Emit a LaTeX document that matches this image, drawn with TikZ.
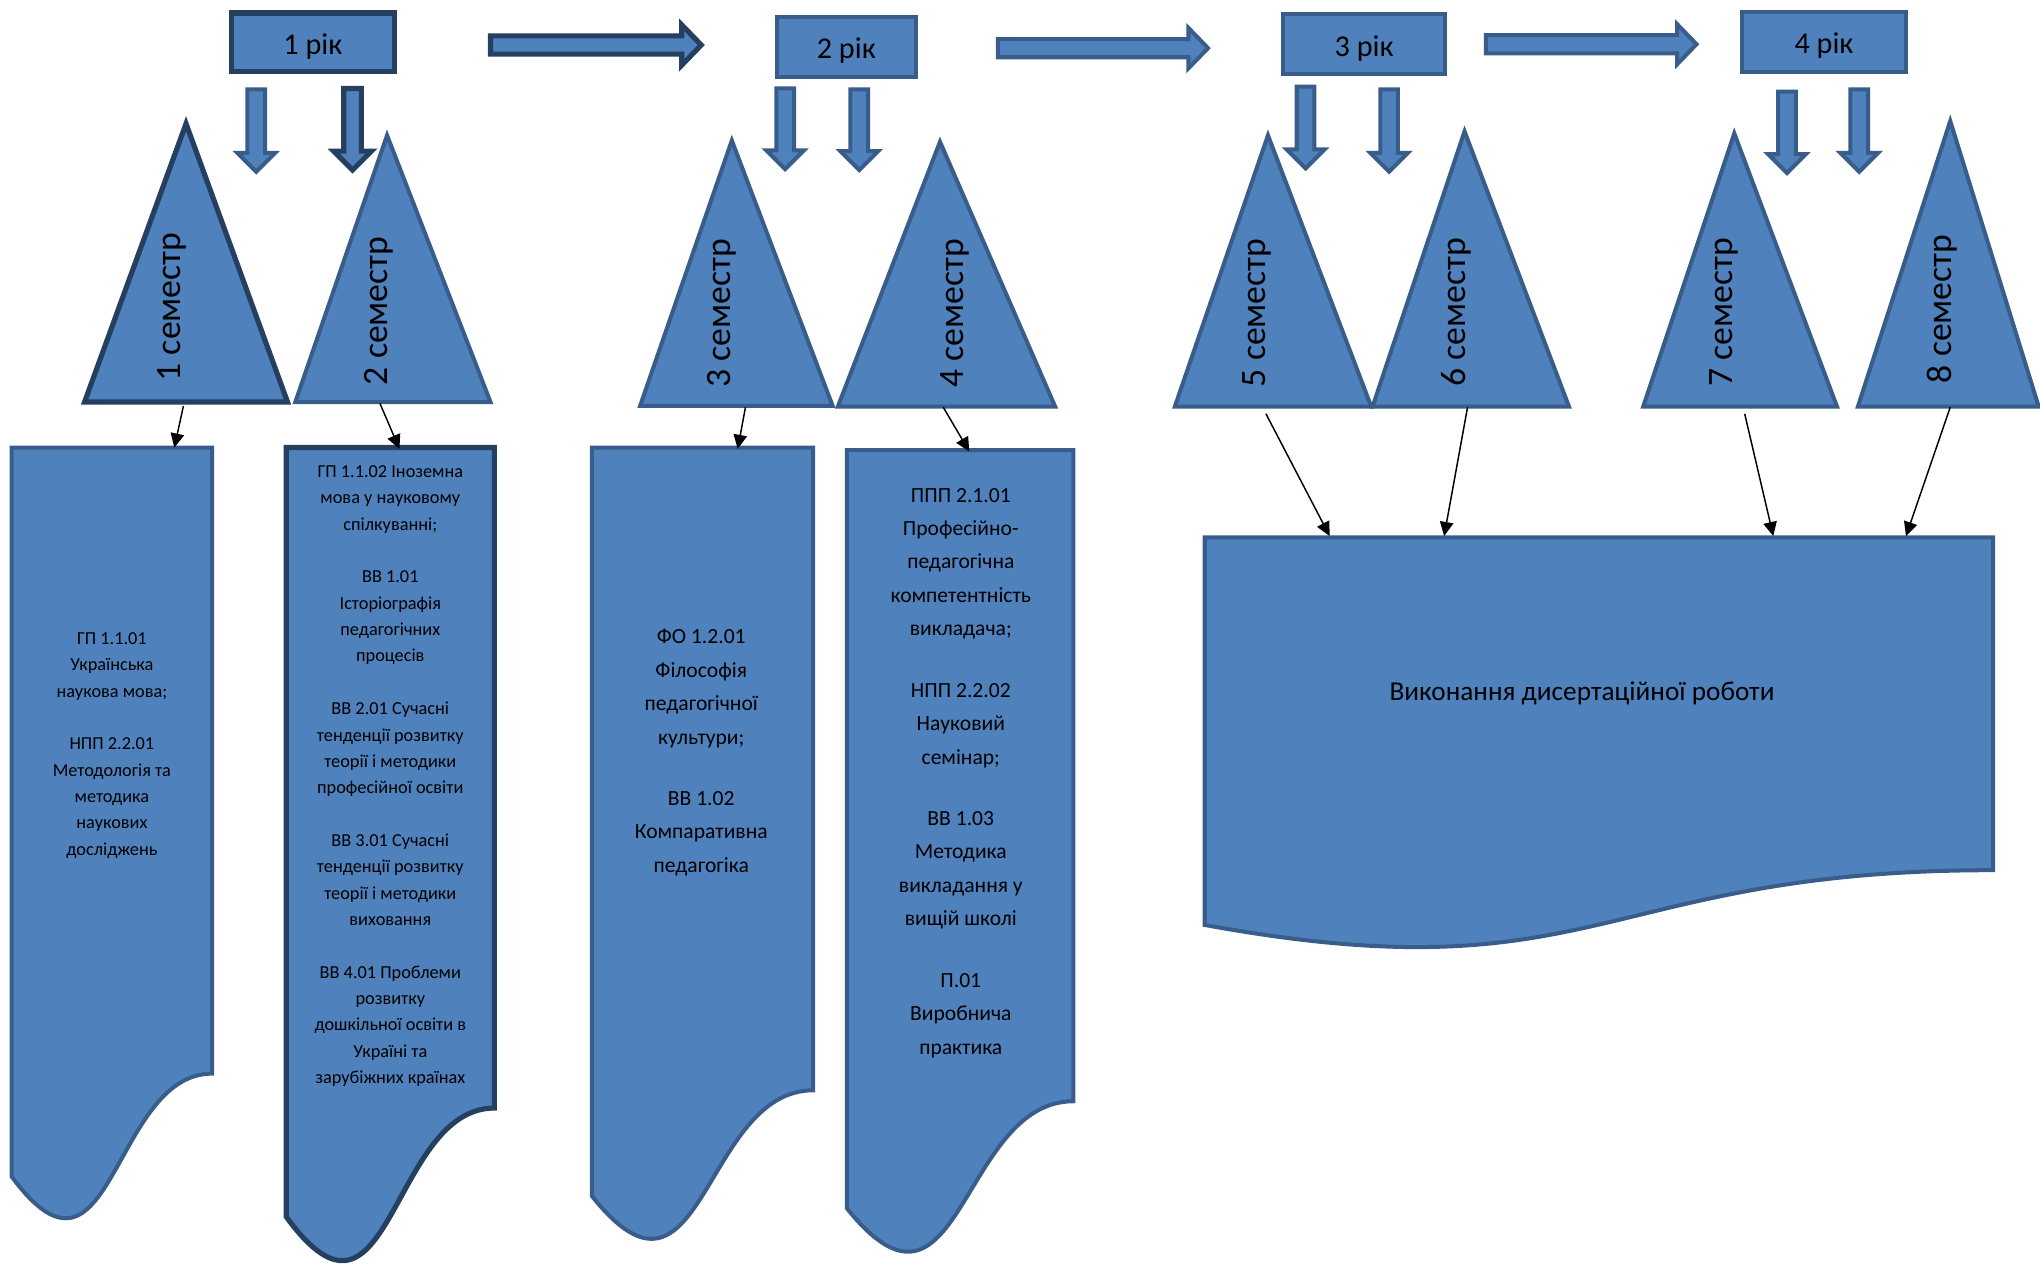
\documentclass[tikz,border=0pt]{standalone}
\usepackage{fontspec}
\setmainfont{Carlito}
\usetikzlibrary{arrows.meta}
\tikzstyle{chart} = [x = 0.025cm, y = -0.025cm, line join = miter]
\definecolor{sheetFill}{HTML}{4F81BD}
\definecolor{edgeColor}{HTML}{385D8A}
\definecolor{darkEdgeColor}{HTML}{243F60}
\tikzstyle{shapeStyle} = [fill=sheetFill, draw=edgeColor, line width=2.2pt]
\tikzstyle{darkShapeStyle} = [fill=sheetFill, draw=darkEdgeColor, line width=2.8pt]
\tikzstyle{yearText} = [font=\fontsize{16.5}{20}\selectfont, midway, yshift=-2.2pt]
\tikzstyle{semesterText} = [font=\fontsize{19.5}{23}\selectfont, rotate=90, inner sep=0pt]
\tikzstyle{smallPlanText} = [font=\fontsize{10}{14.4}\selectfont, align=center, inner sep=0pt]
\tikzstyle{planText} = [font=\fontsize{11.8}{18.3}\selectfont, align=center, inner sep=0pt]
\tikzstyle{workText} = [font=\fontsize{14.9}{18}\selectfont, inner sep=0pt]
\tikzstyle{linkArrow} = [-{Triangle[length=0.27cm, width=0.26cm]}, line width=0.8pt, black]
\newcommand{\yearBox}[7]{\filldraw [#1] (#3,#4) rectangle (#5,#6) node [yearText] (#2) {#7};}
\newcommand{\rightBlockArrow}[4]{\filldraw [#1] (#2, #4 - 7) -- (#3 - 15, #4 - 7) -- (#3 - 15, #4 - 15.5) -- (#3, #4) -- (#3 - 15, #4 + 15.5) -- (#3 - 15, #4 + 7) -- (#2, #4 + 7) -- cycle;}
\newcommand{\downBlockArrow}[4]{\filldraw [#1] (#2 - 6.8, #3) -- (#2 + 6.8, #3) -- (#2 + 6.8, #4 - 14.5) -- (#2 + 14.5, #4 - 14.5) -- (#2, #4) -- (#2 - 14.5, #4 - 14.5) -- (#2 - 6.8, #4 - 14.5) -- cycle;}
\newcommand{\semesterTriangle}[6]{\filldraw [#1] (#2,#3) -- (#5,#6) -- (#4,#6) -- cycle;}
\newcommand{\planSheet}[5]{\filldraw [#1] (#2,#4) -- (#3,#4) -- (#3, #4 + 0.802 * #5) .. controls (#2 / 2 + #3 / 2, #4 + 0.802 * #5) and (#2 / 2 + #3 / 2, #4 + 1.1075 * #5) .. (#2, #4 + 0.934 * #5) -- cycle;}

\begin{document}
\begin{tikzpicture}[chart]
  \useasboundingbox (0,0) rectangle (1568,970.8);

  % years
  \yearBox{darkShapeStyle}{year1}{178}{10}{303}{55}{1 рік}
  \yearBox{shapeStyle}{year2}{597}{13}{704}{59}{2 рік}
  \yearBox{shapeStyle}{year3}{986}{11}{1111}{57}{3 рік}
  \yearBox{shapeStyle}{year4}{1339}{9}{1465}{55}{4 рік}
  \rightBlockArrow{darkShapeStyle}{377}{539}{34.6}
  \rightBlockArrow{shapeStyle}{767}{928.5}{37}
  \rightBlockArrow{shapeStyle}{1142}{1304}{34}

  \downBlockArrow{shapeStyle}{197}{68.7}{132}
  \downBlockArrow{darkShapeStyle}{271}{68}{130.7}
  \downBlockArrow{shapeStyle}{603.5}{68}{130}
  \downBlockArrow{shapeStyle}{660.5}{68.7}{130.7}
  \downBlockArrow{shapeStyle}{1003.5}{66.6}{129.4}
  \downBlockArrow{shapeStyle}{1067.7}{68.7}{132}
  \downBlockArrow{shapeStyle}{1373.5}{70.5}{133}
  \downBlockArrow{shapeStyle}{1429}{68.7}{132}

  % semesters
  \semesterTriangle{darkShapeStyle}{143}{95}{65}{221}{309}
  \semesterTriangle{shapeStyle}{297.5}{104}{227}{377}{309}
  \semesterTriangle{shapeStyle}{562.5}{108}{492}{640}{312}
  \semesterTriangle{shapeStyle}{722.5}{109}{644}{811}{312.5}
  \semesterTriangle{shapeStyle}{974.6}{104}{903}{1054}{312.6}
  \semesterTriangle{shapeStyle}{1125.7}{101}{1055}{1206}{312.6}
  \semesterTriangle{shapeStyle}{1333}{102.5}{1263}{1412}{312.6}
  \semesterTriangle{shapeStyle}{1499}{93}{1428}{1567}{312.6}
  \node [semesterText] (sem1) at (132,236) {1 семестр};
  \node [semesterText] (sem2) at (291,239) {2 семестр};
  \node [semesterText] (sem3) at (554.7,240.7) {3 семестр};
  \node [semesterText] (sem4) at (734,240.7) {4 семестр};
  \node [semesterText] (sem5) at (966,240.5) {5 семестр};
  \node [semesterText] (sem6) at (1119.7,240) {6 семестр};
  \node [semesterText] (sem7) at (1324.8,240) {7 семестр};
  \node [semesterText] (sem8) at (1493,237.5) {8 семестр};

  % plans
  \planSheet{shapeStyle}{9}{163}{344}{600}
  \planSheet{darkShapeStyle}{220}{380}{344}{633}
  \planSheet{shapeStyle}{455}{625}{344}{616}
  \planSheet{shapeStyle}{651}{825}{346}{624}
  \planSheet{shapeStyle}{926}{1532}{413}{319}

  \node [smallPlanText] (plan1) at (86,573) {ГП 1.1.01\\Українська\\наукова мова;\\[14.4pt]НПП 2.2.01\\Методологія та\\методика\\наукових\\досліджень};
  \node [smallPlanText] (plan2) at (300,596.5) {ГП 1.1.02 Іноземна\\мова у науковому\\спілкуванні;\\[14.4pt]ВВ 1.01\\Історіографія\\педагогічних\\процесів\\[14.4pt]ВВ 2.01 Сучасні\\тенденції розвитку\\теорії і методики\\професійної освіти\\[14.4pt]ВВ 3.01 Сучасні\\тенденції розвитку\\теорії і методики\\виховання\\[14.4pt]ВВ 4.01 Проблеми\\розвитку\\дошкільної освіти в\\Україні та\\зарубіжних країнах};
  \node [planText] (plan3) at (539,578.5) {ФО 1.2.01\\Філософія\\педагогічної\\культури;\\[15.2pt]ВВ 1.02\\Компаративна\\педагогіка};
  \node [planText] (plan4) at (738.5,594) {ППП 2.1.01\\Професійно-\\педагогічна\\компетентність\\викладача;\\[15.2pt]НПП 2.2.02\\Науковий\\семінар;\\[15.2pt]ВВ 1.03\\Методика\\викладання у\\вищій школі\\[15.2pt]П.01\\Виробнича\\практика};
  \node [workText] (work) at (1216,533) {Виконання дисертаційної роботи};

  % links
  \coordinate (sem1Foot) at (141,312);
  \coordinate (sem2Foot) at (292,310);
  \coordinate (sem3Foot) at (573,313);
  \coordinate (sem4Foot) at (725,313);
  \coordinate (sem5Foot) at (973,318);
  \coordinate (sem6Foot) at (1128,313);
  \coordinate (sem7Foot) at (1341,318);
  \coordinate (sem8Foot) at (1499,313);
  \coordinate (plan1Top) at (134,344);
  \coordinate (plan2Top) at (307,345);
  \coordinate (plan3Top) at (567,345);
  \coordinate (plan4Top) at (745,347);
  \coordinate (workTopA) at (1022,412);
  \coordinate (workTopB) at (1110,412);
  \coordinate (workTopC) at (1363,412);
  \coordinate (workTopD) at (1465,412);
  \draw [linkArrow] (sem1Foot) -- (plan1Top);
  \draw [linkArrow] (sem2Foot) -- (plan2Top);
  \draw [linkArrow] (sem3Foot) -- (plan3Top);
  \draw [linkArrow] (sem4Foot) -- (plan4Top);
  \draw [linkArrow] (sem5Foot) -- (workTopA);
  \draw [linkArrow] (sem6Foot) -- (workTopB);
  \draw [linkArrow] (sem7Foot) -- (workTopC);
  \draw [linkArrow] (sem8Foot) -- (workTopD);
\end{tikzpicture}
\end{document}
